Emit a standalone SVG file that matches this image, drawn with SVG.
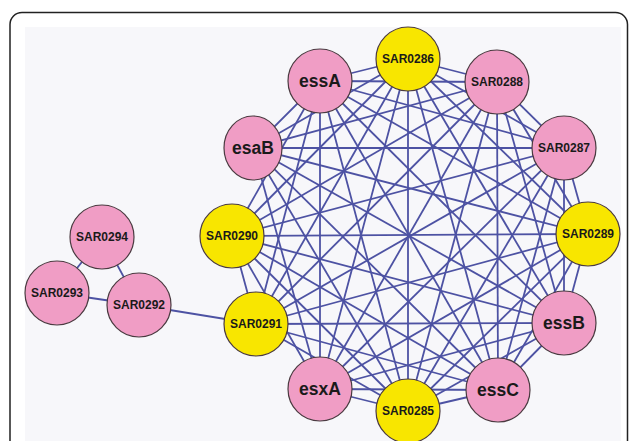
<svg xmlns="http://www.w3.org/2000/svg" width="629" height="441" viewBox="0 0 629 441">
<style>
.e{stroke:#4d52a3;stroke-width:1.8;fill:none}
.p{fill:#f09dc5;stroke:#4a3a40;stroke-width:1.2}
.y{fill:#f8e600;stroke:#4a3a40;stroke-width:1.2}
.s{font-family:"Liberation Sans",Arial,sans-serif;font-weight:bold;font-size:12px;fill:#1a1a1a;text-anchor:middle}
.b{font-family:"Liberation Sans",Arial,sans-serif;font-weight:bold;font-size:17.5px;fill:#1a1a1a;text-anchor:middle}
</style>
<rect x="0" y="0" width="629" height="441" fill="#ffffff"/>
<rect x="10" y="12.5" width="617.5" height="460" rx="12" fill="#ffffff" stroke="#222" stroke-width="1.5"/>
<rect x="25" y="27" width="596" height="420" fill="#f7f7fa"/>
<g id="connectors">
<line class="e" x1="408" y1="59" x2="497" y2="82"/>
<line class="e" x1="408" y1="59" x2="564" y2="148"/>
<line class="e" x1="408" y1="59" x2="588" y2="234"/>
<line class="e" x1="408" y1="59" x2="564" y2="323"/>
<line class="e" x1="408" y1="59" x2="498" y2="390"/>
<line class="e" x1="408" y1="59" x2="408" y2="411"/>
<line class="e" x1="408" y1="59" x2="320" y2="389"/>
<line class="e" x1="408" y1="59" x2="256" y2="324"/>
<line class="e" x1="408" y1="59" x2="232" y2="236"/>
<line class="e" x1="408" y1="59" x2="253" y2="148"/>
<line class="e" x1="408" y1="59" x2="320" y2="81"/>
<line class="e" x1="497" y1="82" x2="564" y2="148"/>
<line class="e" x1="497" y1="82" x2="588" y2="234"/>
<line class="e" x1="497" y1="82" x2="564" y2="323"/>
<line class="e" x1="497" y1="82" x2="498" y2="390"/>
<line class="e" x1="497" y1="82" x2="408" y2="411"/>
<line class="e" x1="497" y1="82" x2="320" y2="389"/>
<line class="e" x1="497" y1="82" x2="256" y2="324"/>
<line class="e" x1="497" y1="82" x2="232" y2="236"/>
<line class="e" x1="497" y1="82" x2="253" y2="148"/>
<line class="e" x1="497" y1="82" x2="320" y2="81"/>
<line class="e" x1="564" y1="148" x2="588" y2="234"/>
<line class="e" x1="564" y1="148" x2="564" y2="323"/>
<line class="e" x1="564" y1="148" x2="498" y2="390"/>
<line class="e" x1="564" y1="148" x2="408" y2="411"/>
<line class="e" x1="564" y1="148" x2="320" y2="389"/>
<line class="e" x1="564" y1="148" x2="256" y2="324"/>
<line class="e" x1="564" y1="148" x2="232" y2="236"/>
<line class="e" x1="564" y1="148" x2="253" y2="148"/>
<line class="e" x1="564" y1="148" x2="320" y2="81"/>
<line class="e" x1="588" y1="234" x2="564" y2="323"/>
<line class="e" x1="588" y1="234" x2="498" y2="390"/>
<line class="e" x1="588" y1="234" x2="408" y2="411"/>
<line class="e" x1="588" y1="234" x2="320" y2="389"/>
<line class="e" x1="588" y1="234" x2="256" y2="324"/>
<line class="e" x1="588" y1="234" x2="232" y2="236"/>
<line class="e" x1="588" y1="234" x2="253" y2="148"/>
<line class="e" x1="588" y1="234" x2="320" y2="81"/>
<line class="e" x1="564" y1="323" x2="498" y2="390"/>
<line class="e" x1="564" y1="323" x2="408" y2="411"/>
<line class="e" x1="564" y1="323" x2="320" y2="389"/>
<line class="e" x1="564" y1="323" x2="256" y2="324"/>
<line class="e" x1="564" y1="323" x2="232" y2="236"/>
<line class="e" x1="564" y1="323" x2="253" y2="148"/>
<line class="e" x1="564" y1="323" x2="320" y2="81"/>
<line class="e" x1="498" y1="390" x2="408" y2="411"/>
<line class="e" x1="498" y1="390" x2="320" y2="389"/>
<line class="e" x1="498" y1="390" x2="256" y2="324"/>
<line class="e" x1="498" y1="390" x2="232" y2="236"/>
<line class="e" x1="498" y1="390" x2="253" y2="148"/>
<line class="e" x1="498" y1="390" x2="320" y2="81"/>
<line class="e" x1="408" y1="411" x2="320" y2="389"/>
<line class="e" x1="408" y1="411" x2="256" y2="324"/>
<line class="e" x1="408" y1="411" x2="232" y2="236"/>
<line class="e" x1="408" y1="411" x2="253" y2="148"/>
<line class="e" x1="408" y1="411" x2="320" y2="81"/>
<line class="e" x1="320" y1="389" x2="232" y2="236"/>
<line class="e" x1="320" y1="389" x2="253" y2="148"/>
<line class="e" x1="320" y1="389" x2="320" y2="81"/>
<line class="e" x1="256" y1="324" x2="232" y2="236"/>
<line class="e" x1="256" y1="324" x2="320" y2="81"/>
<line class="e" x1="232" y1="236" x2="320" y2="81"/>
<line class="e" x1="253" y1="148" x2="320" y2="81"/>
<line class="e" x1="256" y1="324" x2="139" y2="305"/>
<line class="e" x1="139" y1="305" x2="57" y2="293"/>
<line class="e" x1="139" y1="305" x2="102" y2="237"/>
<line class="e" x1="57" y1="293" x2="102" y2="237"/>
</g>
<g id="SAR0286"><circle class="y" cx="408" cy="59" r="32"/><text class="s" x="408" y="63.3">SAR0286</text></g>
<g id="SAR0288"><circle class="p" cx="497" cy="82" r="32"/><text class="s" x="497" y="86.3">SAR0288</text></g>
<g id="SAR0287"><circle class="p" cx="564" cy="148" r="32"/><text class="s" x="564" y="152.3">SAR0287</text></g>
<g id="SAR0289"><circle class="y" cx="588" cy="234" r="32"/><text class="s" x="588" y="238.3">SAR0289</text></g>
<g id="essB"><circle class="p" cx="564" cy="323" r="32"/><text class="b" x="564" y="329.2">essB</text></g>
<g id="essC"><circle class="p" cx="498" cy="390" r="32"/><text class="b" x="498" y="396.2">essC</text></g>
<g id="SAR0285"><circle class="y" cx="408" cy="411" r="32"/><text class="s" x="408" y="415.3">SAR0285</text></g>
<g id="esxA"><circle class="p" cx="320" cy="389" r="32"/><text class="b" x="320" y="395.2">esxA</text></g>
<g id="SAR0291"><circle class="y" cx="256" cy="324" r="32"/><text class="s" x="256" y="328.3">SAR0291</text></g>
<g id="SAR0290"><circle class="y" cx="232" cy="236" r="32"/><text class="s" x="232" y="240.3">SAR0290</text></g>
<g id="esaB"><ellipse class="p" cx="253" cy="148" rx="29" ry="32"/><text class="b" x="253" y="154.2">esaB</text></g>
<g id="essA"><circle class="p" cx="320" cy="81" r="32"/><text class="b" x="320" y="87.2">essA</text></g>
<g id="SAR0292"><circle class="p" cx="139" cy="305" r="32"/><text class="s" x="139" y="309.3">SAR0292</text></g>
<g id="SAR0293"><circle class="p" cx="57" cy="293" r="32"/><text class="s" x="57" y="297.3">SAR0293</text></g>
<g id="SAR0294"><circle class="p" cx="102" cy="237" r="32"/><text class="s" x="102" y="241.3">SAR0294</text></g>
</svg>
